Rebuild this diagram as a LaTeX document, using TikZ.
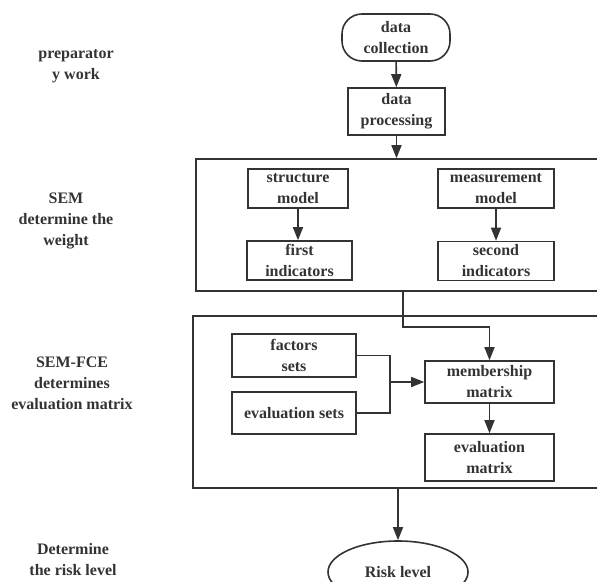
\documentclass[tikz,border=0pt]{standalone}
\usepackage{fontspec}
\setmainfont{Liberation Serif}
\usetikzlibrary{arrows.meta,positioning,shapes.geometric}
\definecolor{ink}{HTML}{333333}

\begin{document}
\begin{tikzpicture}[x=1pt,y=-1pt,line width=1.6pt,color=ink,
every node/.style={font=\fontsize{16}{21}\selectfont\bfseries,text=ink,align=center,inner sep=1pt},
box/.style={draw,rectangle},rbox/.style={draw,rectangle,rounded corners=20pt},
frame/.style={draw,rectangle,inner sep=0pt},
arr/.style={-{Triangle[length=13pt,width=10pt]}}]
\useasboundingbox (0,0) rectangle (597,581);
% left column
\node (preplbl) at (76,66) {preparator\\y work};
\node (semlbl) at (66,221) {SEM\\determine the\\weight};
\node (fcelbl) at (72,383) {SEM-FCE\\determines\\evaluation matrix};
\node (risklbl) at (73,560) {Determine\\the risk level};
% preparatory work
\node[rbox,minimum width=108pt,minimum height=47pt] (collect) at (396,37.5) {data\\collection};
\node[box,minimum width=97pt,minimum height=47pt] (process) at (396.5,111.5) {data\\processing};
% SEM
\node[frame,minimum width=424pt,minimum height=132pt] (semframe) at (408,225) {};
\node[box,minimum width=100pt,minimum height=39pt] (structure) at (298,188.5) {structure\\model};
\node[box,minimum width=105pt,minimum height=39pt] (first) at (299.5,260.5) {first\\indicators};
\node[box,minimum width=116pt,minimum height=39pt] (measure) at (496,188.5) {measurement\\model};
\node[box,minimum width=116pt,minimum height=39pt] (second) at (496,261) {second\\indicators};
% SEM-FCE
\node[frame,minimum width=427pt,minimum height=172pt] (fceframe) at (406.5,402) {};
\node[box,minimum width=124pt,minimum height=43pt] (factors) at (294,355.5) {factors\\sets};
\node[box,minimum width=124pt,minimum height=42pt] (evalsets) at (294,413) {evaluation sets};
\node[box,minimum width=129pt,minimum height=42pt] (member) at (489.5,382) {membership\\matrix};
\node[box,minimum width=129pt,minimum height=47pt] (evalmatrix) at (489.5,457.5) {evaluation\\matrix};
% risk level
\node[ellipse,draw,minimum width=140pt,minimum height=62pt,inner sep=0pt] (risk) at (398,572) {Risk level};
\coordinate (bend) at (403,327);
\coordinate (join) at (390,382);
\draw[arr] (collect) -- (process);
\draw[arr] (process) -- (process|-semframe.north);
\draw[arr] (structure) -- (structure|-first.north);
\draw[arr] (measure) -- (second);
\draw[arr] (bend|-semframe.south) -- (bend) -| (member.north);
\draw (factors.east) -| (join);
\draw (evalsets.east) -| (join);
\draw[arr] (join) -- (member.west);
\draw[arr] (member) -- (evalmatrix);
\draw[arr] (risk|-fceframe.south) -- (risk.north);
\end{tikzpicture}
\end{document}
